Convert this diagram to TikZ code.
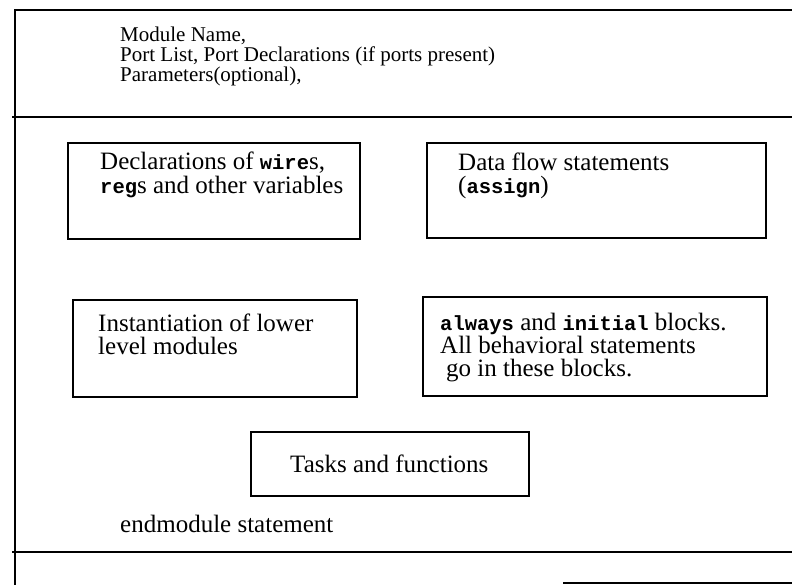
\documentclass[tikz,border=0pt]{standalone}
\usepackage{fontspec}
\setmainfont{Liberation Serif}
\newfontfamily\courfont[Scale=0.82]{Liberation Mono}
\newcommand{\kwd}[1]{{\courfont\bfseries #1}}
\begin{document}
\begin{tikzpicture}[x=1pt,y=-1pt,
  frame/.style={line width=1.4pt, black},
  boxline/.style={line width=1.1pt, black},
  toptxt/.style={anchor=base west, inner sep=0pt, font=\fontsize{21}{21}\selectfont},
  boxtxt/.style={anchor=base west, inner sep=0pt, font=\fontsize{25}{25}\selectfont}]
\useasboundingbox (0,0) rectangle (792,585);
% outer frame and separators
\draw[frame] (792,10) -- (15,10) -- (15,585);
\draw[frame] (12,117) -- (792,117);
\draw[frame] (12,552) -- (792,552);
\draw[frame] (563,583) -- (792,583);
% header text
\node[toptxt] (h1) at (120,42) {Module Name,};
\node[toptxt] (h2) at (120,62) {Port List, Port Declarations (if ports present)};
\node[toptxt] (h3) at (120,82) {Parameters(optional),};
% boxes
\draw[boxline] (68,143) rectangle (360,239);
\draw[boxline] (427,143) rectangle (766,238);
\draw[boxline] (73,300) rectangle (357,397);
\draw[boxline] (423,297) rectangle (767,396);
\draw[boxline] (251,432) rectangle (529,496);
% box texts
\node[boxtxt] (d1) at (100,170) {Declarations of \kwd{wire}s,};
\node[boxtxt] (d2) at (100,194) {\kwd{reg}s and other variables};
\node[boxtxt] (f1) at (458,171) {Data flow statements};
\node[boxtxt] (f2) at (458,194) {(\kwd{assign})};
\node[boxtxt] (i1) at (98,331) {Instantiation of lower};
\node[boxtxt] (i2) at (98,354) {level modules};
\node[boxtxt] (a1) at (440,330) {\kwd{always} and \kwd{initial} blocks.};
\node[boxtxt] (a2) at (440,353) {All behavioral statements};
\node[boxtxt] (a3) at (446,376) {go in these blocks.};
\node[boxtxt] (t1) at (290,472) {Tasks and functions};
\node[boxtxt] (e1) at (120,532) {endmodule statement};
\end{tikzpicture}
\end{document}
